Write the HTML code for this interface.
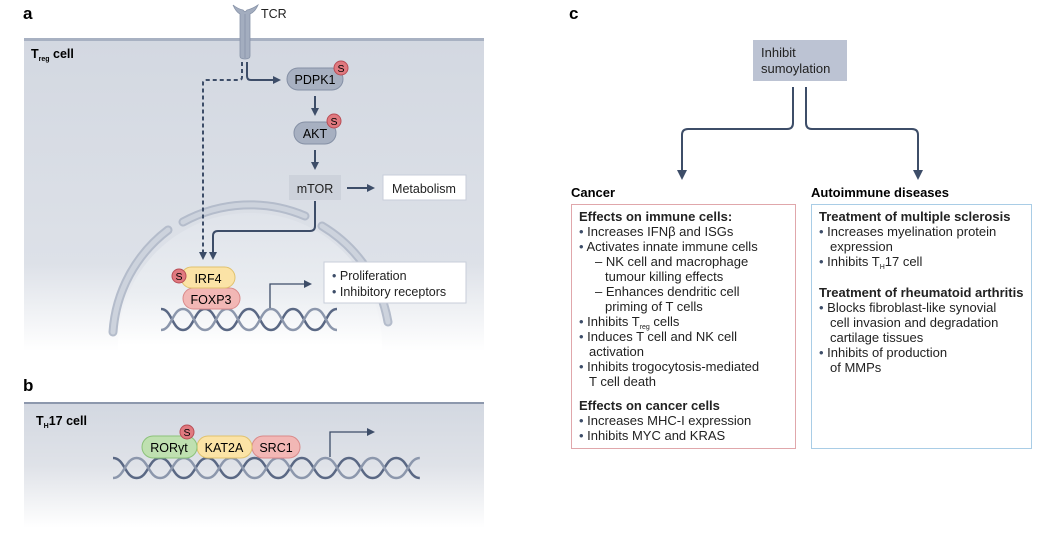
<!DOCTYPE html>
<html><head><meta charset="utf-8"><style>
body{margin:0;background:#fff;}
svg{display:block;font-family:"Liberation Sans",sans-serif;}
</style></head><body>
<svg width="1059" height="536" viewBox="0 0 1059 536" xmlns="http://www.w3.org/2000/svg">
<defs>
<linearGradient id="ga" x1="0" y1="0" x2="0" y2="1">
<stop offset="0" stop-color="#d3d8e1"/><stop offset="0.72" stop-color="#dde1e8"/><stop offset="1" stop-color="#ffffff"/></linearGradient>
<linearGradient id="gb" x1="0" y1="0" x2="0" y2="1">
<stop offset="0" stop-color="#d3d8e1"/><stop offset="0.5" stop-color="#dfe2e8"/><stop offset="1" stop-color="#ffffff"/></linearGradient>
<linearGradient id="gn" x1="0" y1="0" x2="0" y2="1">
<stop offset="0" stop-color="#dfe3ea"/><stop offset="0.3" stop-color="#eaedf1"/><stop offset="0.5" stop-color="#ffffff"/></linearGradient>
<clipPath id="ca"><rect x="24" y="40" width="460" height="311"/></clipPath>
<marker id="ar" markerWidth="8" markerHeight="8" refX="6" refY="4" orient="auto" markerUnits="userSpaceOnUse"><path d="M0,0 L8,4 L0,8 Z" fill="#3d4d68"/></marker>
<marker id="ar2" markerWidth="10" markerHeight="10" refX="7" refY="5" orient="auto" markerUnits="userSpaceOnUse"><path d="M0,0 L10,5 L0,10 Z" fill="#3d4d68"/></marker>
</defs>

<!-- panel a -->
<text x="23" y="19" font-weight="bold" font-size="17">a</text>
<rect x="24" y="39" width="460" height="312" fill="url(#ga)"/>
<rect x="24" y="38" width="460" height="3" fill="#a8b1c2"/>
<text x="31" y="58" font-weight="bold" font-size="12.5">T<tspan font-size="7" dy="3">reg</tspan><tspan dy="-3"> cell</tspan></text>

<!-- nucleus -->
<g clip-path="url(#ca)">
<circle cx="250" cy="345" r="132" fill="url(#gn)"/>
<g fill="none" stroke="#b4bccb" stroke-width="9" stroke-linecap="round">
<path d="M113,332 A140,140 0 0 1 168,230"/>
<path d="M183,222 A140,140 0 0 1 305,216"/>
<path d="M322,226 A140,140 0 0 1 388,322"/>
</g>
<g fill="none" stroke="#cdd3dd" stroke-width="5" stroke-linecap="round">
<path d="M113,332 A140,140 0 0 1 168,230"/>
<path d="M183,222 A140,140 0 0 1 305,216"/>
<path d="M322,226 A140,140 0 0 1 388,322"/>
</g>
</g>

<!-- TCR -->
<path d="M233,5 Q236,12 240,14 L240,56 Q240,59 245,59 Q250,59 250,56 L250,14 Q255,12 258,5 Q252,9 247,10 Q245,13 243,10 Q238,9 233,5 Z" fill="#a3adbf" stroke="#8893a8" stroke-width="0.8"/>
<line x1="245" y1="14" x2="245" y2="58" stroke="#8893a8" stroke-width="0.8"/>
<text x="261" y="18" font-size="12.5" fill="#222">TCR</text>

<!-- connectors -->
<path d="M247,62 L247,76 Q247,80 251,80 L279,80" fill="none" stroke="#3d4d68" stroke-width="2" marker-end="url(#ar)"/>
<path d="M242,62 L242,77 Q242,80 239,80 L206,80 Q203,80 203,83 L203,258" fill="none" stroke="#3d4d68" stroke-width="2" stroke-dasharray="4,3" marker-end="url(#ar)"/>
<path d="M315,96 L315,114" stroke="#3d4d68" stroke-width="2" marker-end="url(#ar)"/>
<path d="M315,150 L315,168" stroke="#3d4d68" stroke-width="2" marker-end="url(#ar)"/>
<path d="M347,188 L373,188" stroke="#3d4d68" stroke-width="2" marker-end="url(#ar)"/>
<path d="M315,201 L315,226 Q315,231 310,231 L218,231 Q213,231 213,236 L213,258" fill="none" stroke="#3d4d68" stroke-width="2" marker-end="url(#ar)"/>

<!-- pills -->
<rect x="287" y="68" width="56" height="22" rx="11" fill="#a7b0c1" stroke="#8590a5"/>
<text x="315" y="84" font-size="12.5" text-anchor="middle">PDPK1</text>
<circle cx="341" cy="68" r="7" fill="#e0797f" stroke="#b84d55"/><text x="341" y="72" font-size="10.5" text-anchor="middle">S</text>
<rect x="294" y="122" width="42" height="22" rx="11" fill="#a7b0c1" stroke="#8590a5"/>
<text x="315" y="138" font-size="12.5" text-anchor="middle">AKT</text>
<circle cx="334" cy="121" r="7" fill="#e0797f" stroke="#b84d55"/><text x="334" y="125" font-size="10.5" text-anchor="middle">S</text>
<rect x="289" y="175" width="52" height="25" fill="#cdd2db"/>
<text x="315" y="193" font-size="12.5" text-anchor="middle" fill="#222">mTOR</text>
<rect x="383" y="175" width="83" height="25" fill="#fff" stroke="#c8ceda"/>
<text x="424" y="193" font-size="12.5" text-anchor="middle" fill="#222">Metabolism</text>

<!-- DNA a -->
<g fill="none" stroke-width="2.5">
<path d="M161,309 C172,309 172,330 183,330 C194,330 194,309 205,309 C216,309 216,330 227,330 C238,330 238,309 249,309 C260,309 260,330 271,330 C282,330 282,309 293,309 C304,309 304,330 315,330 C326,330 326,309 337,309" stroke="#5a6884"/>
<path d="M161,330 C172,330 172,309 183,309 C194,309 194,330 205,330 C216,330 216,309 227,309 C238,309 238,330 249,330 C260,330 260,309 271,309 C282,309 282,330 293,330 C304,330 304,309 315,309 C326,309 326,330 337,330" stroke="#8c97ac"/>
</g>
<path d="M270,308 L270,284 L310,284" fill="none" stroke="#3d4d68" stroke-width="1.3" marker-end="url(#ar)"/>
<rect x="183" y="288" width="57" height="21" rx="10.5" fill="#f2b7b5" stroke="#d98a8a"/>
<text x="211" y="304" font-size="12.5" text-anchor="middle">FOXP3</text>
<rect x="181" y="267" width="54" height="21" rx="10.5" fill="#fbe3a6" stroke="#e0c26e"/>
<text x="208" y="283" font-size="12.5" text-anchor="middle">IRF4</text>
<circle cx="179" cy="276" r="7" fill="#e0797f" stroke="#b84d55"/><text x="179" y="280" font-size="10.5" text-anchor="middle">S</text>
<rect x="324" y="262" width="142" height="41" fill="#fff" stroke="#c8ceda"/>
<text x="332" y="280" font-size="12.5" fill="#222"><tspan fill="#3d4d68">•</tspan> Proliferation</text>
<text x="332" y="296" font-size="12.5" fill="#222"><tspan fill="#3d4d68">•</tspan> Inhibitory receptors</text>

<!-- panel b -->
<text x="23" y="391" font-weight="bold" font-size="17">b</text>
<rect x="24" y="403" width="460" height="125" fill="url(#gb)"/>
<rect x="24" y="402" width="460" height="2" fill="#8d98ad"/>
<text x="36" y="425" font-weight="bold" font-size="12.5">T<tspan font-size="7" dy="3">H</tspan><tspan dy="-3">17 cell</tspan></text>
<g fill="none" stroke-width="2.5">
<path d="M113,458 C124.8,458 124.8,478 136.6,478 C148.4,478 148.4,458 160.2,458 C172,458 172,478 183.8,478 C195.6,478 195.6,458 207.4,458 C219.2,458 219.2,478 231,478 C242.8,478 242.8,458 254.6,458 C266.4,458 266.4,478 278.2,478 C290,478 290,458 301.8,458 C313.6,458 313.6,478 325.4,478 C337.2,478 337.2,458 349,458 C360.8,458 360.8,478 372.6,478 C384.4,478 384.4,458 396.2,458 C408,458 408,478 419.8,478" stroke="#5a6884"/>
<path d="M113,478 C124.8,478 124.8,458 136.6,458 C148.4,458 148.4,478 160.2,478 C172,478 172,458 183.8,458 C195.6,458 195.6,478 207.4,478 C219.2,478 219.2,458 231,458 C242.8,458 242.8,478 254.6,478 C266.4,478 266.4,458 278.2,458 C290,458 290,478 301.8,478 C313.6,478 313.6,458 325.4,458 C337.2,458 337.2,478 349,478 C360.8,478 360.8,458 372.6,458 C384.4,458 384.4,478 396.2,478 C408,478 408,458 419.8,458" stroke="#8c97ac"/>
</g>
<path d="M330,457 L330,432 L373,432" fill="none" stroke="#3d4d68" stroke-width="1.3" marker-end="url(#ar)"/>
<rect x="252" y="436" width="48" height="22" rx="11" fill="#f2b7b5" stroke="#d98a8a"/>
<text x="276" y="452" font-size="12.5" text-anchor="middle">SRC1</text>
<rect x="197" y="436" width="55" height="22" rx="11" fill="#fbe3a6" stroke="#e0c26e"/>
<text x="224" y="452" font-size="12.5" text-anchor="middle">KAT2A</text>
<rect x="142" y="436" width="55" height="22" rx="11" fill="#bfe0b0" stroke="#8cc27a"/>
<text x="169" y="452" font-size="12.5" text-anchor="middle">RORγt</text>
<circle cx="187" cy="432" r="7" fill="#e0797f" stroke="#b84d55"/><text x="187" y="436" font-size="10.5" text-anchor="middle">S</text>

<!-- panel c -->
<text x="569" y="19" font-weight="bold" font-size="17">c</text>
<rect x="753" y="40" width="94" height="41" fill="#bcc3d3"/>
<text x="761" y="57" font-size="13" fill="#222">Inhibit</text>
<text x="761" y="73" font-size="13" fill="#222">sumoylation</text>
<path d="M793,87 L793,123 Q793,129 787,129 L688,129 Q682,129 682,135 L682,177" fill="none" stroke="#3d4d68" stroke-width="2" marker-end="url(#ar2)"/>
<path d="M806,87 L806,123 Q806,129 812,129 L912,129 Q918,129 918,135 L918,177" fill="none" stroke="#3d4d68" stroke-width="2" marker-end="url(#ar2)"/>
<text x="571" y="197" font-weight="bold" font-size="13">Cancer</text>
<text x="811" y="197" font-weight="bold" font-size="13">Autoimmune diseases</text>

<rect x="571.5" y="204.5" width="224" height="244" fill="#fff" stroke="#e0a7ab"/>
<g font-size="13" fill="#222">
<text x="579" y="221" font-weight="bold">Effects on immune cells:</text>
<text x="579" y="236"><tspan fill="#3d4d68">•</tspan> Increases IFNβ and ISGs</text>
<text x="579" y="251"><tspan fill="#3d4d68">•</tspan> Activates innate immune cells</text>
<text x="595" y="266">– NK cell and macrophage</text>
<text x="605" y="281">tumour killing effects</text>
<text x="595" y="296">– Enhances dendritic cell</text>
<text x="605" y="311">priming of T cells</text>
<text x="579" y="326"><tspan fill="#3d4d68">•</tspan> Inhibits T<tspan font-size="7" dy="3">reg</tspan><tspan dy="-3"> cells</tspan></text>
<text x="579" y="341"><tspan fill="#3d4d68">•</tspan> Induces T cell and NK cell</text>
<text x="589" y="356">activation</text>
<text x="579" y="371"><tspan fill="#3d4d68">•</tspan> Inhibits trogocytosis-mediated</text>
<text x="589" y="386">T cell death</text>
<text x="579" y="410" font-weight="bold">Effects on cancer cells</text>
<text x="579" y="425"><tspan fill="#3d4d68">•</tspan> Increases MHC-I expression</text>
<text x="579" y="440"><tspan fill="#3d4d68">•</tspan> Inhibits MYC and KRAS</text>
</g>

<rect x="811.5" y="204.5" width="220" height="244" fill="#fff" stroke="#a9cde6"/>
<g font-size="13" fill="#222">
<text x="819" y="221" font-weight="bold">Treatment of multiple sclerosis</text>
<text x="819" y="236"><tspan fill="#3d4d68">•</tspan> Increases myelination protein</text>
<text x="830" y="251">expression</text>
<text x="819" y="266"><tspan fill="#3d4d68">•</tspan> Inhibits T<tspan font-size="7" dy="3">H</tspan><tspan dy="-3">17 cell</tspan></text>
<text x="819" y="297" font-weight="bold">Treatment of rheumatoid arthritis</text>
<text x="819" y="312"><tspan fill="#3d4d68">•</tspan> Blocks fibroblast-like synovial</text>
<text x="830" y="327">cell invasion and degradation</text>
<text x="830" y="342">cartilage tissues</text>
<text x="819" y="357"><tspan fill="#3d4d68">•</tspan> Inhibits of production</text>
<text x="830" y="372">of MMPs</text>
</g>
</svg>
</body></html>
